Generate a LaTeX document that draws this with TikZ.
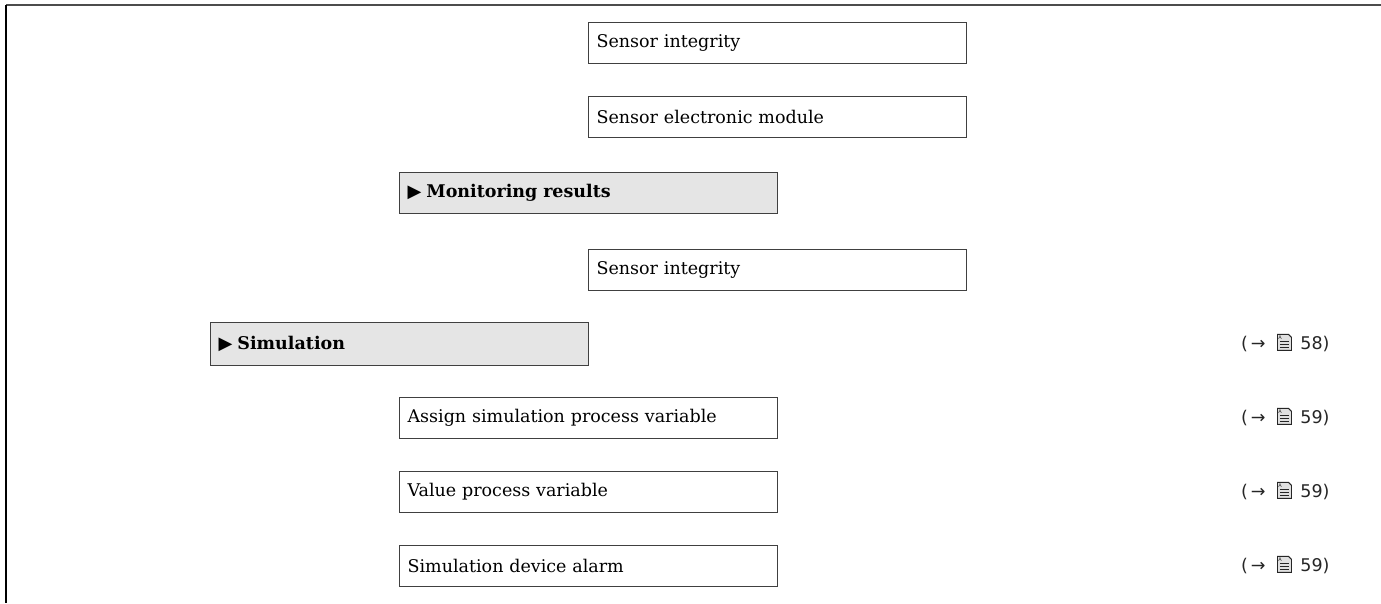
\documentclass[tikz,border=0pt]{standalone}
\usepackage{fontspec}
\setmainfont{DejaVu Serif}
\newfontfamily\refsans{DejaVu Sans}
\tikzset{
  item/.style={draw=black!75, line width=1.2pt, minimum width=378pt, minimum height=41pt, anchor=north west, text width=362pt, align=left, inner xsep=8pt, font=\fontsize{17.5pt}{20pt}\selectfont},
  grp/.style={item, fill=black!10},
  refl/.style={anchor=east, font=\refsans\fontsize{17.5pt}{20pt}\selectfont, text=black!85},
}
\newcommand{\docicon}{\tikz[baseline=-1.5pt,x=1pt,y=1pt]{\draw[line width=0.9pt, fill=black!12] (0,-2) -- (0,14) -- (11,14) -- (14,11) -- (14,-2) -- cycle; \foreach \yy in {1,4,7}{\draw[line width=0.8pt] (2.5,\yy) -- (11.5,\yy);}\node[inner sep=0pt,font=\refsans\fontsize{5pt}{5pt}\selectfont] at (4.5,10.8) {A};}}
\newcommand{\grptri}{{\refsans\fontsize{18pt}{20pt}\selectfont ▶}\hspace{5pt}}
\begin{document}
\begin{tikzpicture}[x=1pt,y=-1pt]
\useasboundingbox (0,0) rectangle (1381,603);
\draw[black!70, line width=1.5pt] (6,5) -- (1381,5);
\draw[black, line width=1.8pt] (6,5) -- (6,603);
\node[item] (si1) at (588,22) {Sensor integrity};
\node[item] (sem) at (588,96) {Sensor electronic module};
\node[grp] (mon) at (399,172) {\grptri\bfseries Monitoring results};
\node[item] (si2) at (588,249) {Sensor integrity};
\node[grp, minimum height=43pt] (sim) at (210,322) {\grptri\bfseries Simulation};
\node[item] (asg) at (399,397) {Assign simulation process variable};
\node[item] (val) at (399,471) {Value process variable};
\node[item] (alm) at (399,545) {Simulation device alarm};
\node[refl] (r1) at (1333,343) {(\,→\,\, \docicon\, 58)};
\node[refl] (r2) at (1333,417) {(\,→\,\, \docicon\, 59)};
\node[refl] (r3) at (1333,491) {(\,→\,\, \docicon\, 59)};
\node[refl] (r4) at (1333,565) {(\,→\,\, \docicon\, 59)};
\end{tikzpicture}
\end{document}
